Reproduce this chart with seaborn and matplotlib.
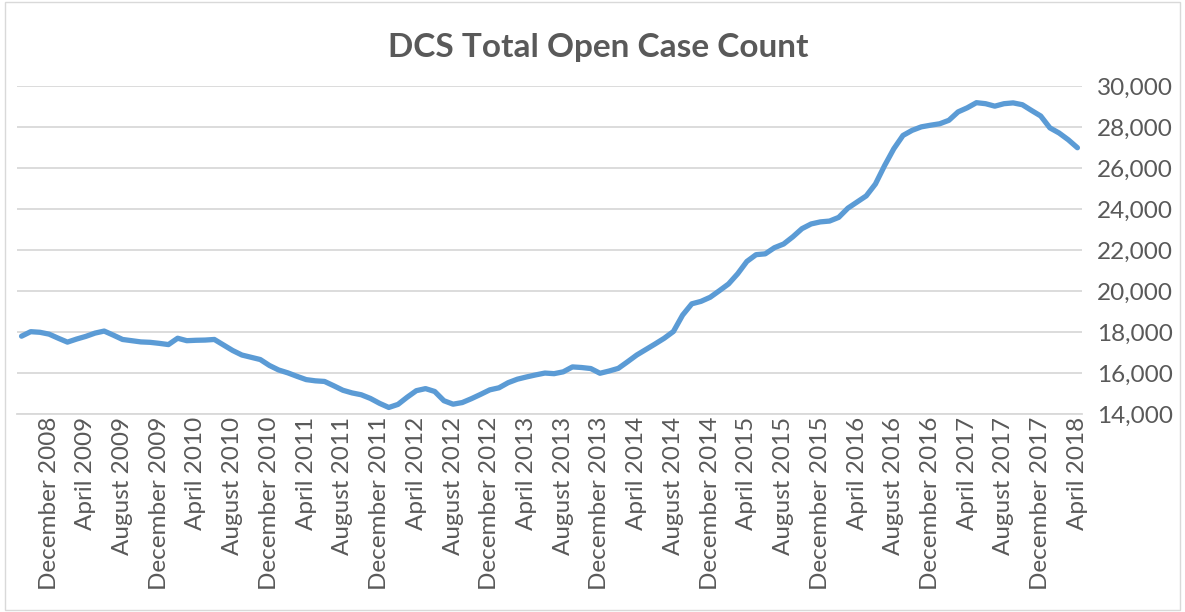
import pandas as pd
import matplotlib
matplotlib.use("Agg")
import matplotlib.pyplot as plt
import seaborn as sns
from matplotlib.ticker import FuncFormatter, MultipleLocator
from matplotlib.patches import Rectangle

sns.set_theme(style="white")
plt.rcParams['font.family'] = ['Lato', 'DejaVu Sans']

# Monthly open case counts, September 2008 - April 2018
months = pd.date_range("2008-09-01", "2018-04-01", freq="MS")
cases = [
    17800, 18020, 17990, 17900, 17700, 17510, 17660, 17790, 17950, 18050,
    17850, 17640, 17580, 17520, 17500, 17450, 17390, 17700, 17580, 17600,
    17610, 17640, 17370, 17100, 16880, 16770, 16660, 16370, 16150, 16010,
    15840, 15680, 15620, 15590, 15380, 15160, 15030, 14940, 14760, 14520,
    14320, 14470, 14820, 15140, 15240, 15100, 14650, 14480, 14560, 14750,
    14960, 15180, 15280, 15530, 15700, 15810, 15910, 16000, 15970, 16060,
    16300, 16270, 16220, 15990, 16100, 16230, 16550, 16880, 17150, 17420,
    17700, 18030, 18830, 19380, 19500, 19700, 20020, 20350, 20850, 21450,
    21780, 21820, 22120, 22300, 22650, 23050, 23280, 23380, 23420, 23600,
    24050, 24350, 24650, 25230, 26130, 26950, 27600, 27850, 28020, 28100,
    28170, 28340, 28750, 28950, 29200, 29150, 29030, 29150, 29190, 29100,
    28820, 28550, 27970, 27720, 27390, 27000,
]
month_labels = [m.strftime("%B %Y") for m in months]

df = pd.DataFrame({"idx": range(len(cases)), "cases": cases, "month": month_labels})

GRAY = "#595959"
fig = plt.figure(figsize=(11.85, 6.12), dpi=100)
ax = fig.add_axes([0.0143, 0.3235, 0.8988, 0.5355])

sns.lineplot(data=df, x="idx", y="cases", ax=ax, color="#5B9BD5", linewidth=3.8,
             solid_capstyle="round", solid_joinstyle="round")

ax.set_xlim(-0.5, len(cases) - 0.5)
ax.set_ylim(14000, 30000)
ax.yaxis.set_major_locator(MultipleLocator(2000))
ax.yaxis.set_major_formatter(FuncFormatter(lambda v, p: f"{int(v):,}"))
ax.yaxis.tick_right()
ax.grid(axis="y", color="#D9D9D9", linewidth=1.3)
ax.set_axisbelow(True)

tick_pos = list(range(3, len(cases), 4))
ax.set_xticks(tick_pos)
ax.set_xticklabels([month_labels[i] for i in tick_pos], rotation=90)

ax.tick_params(axis="x", length=0, pad=2, labelsize=17.5, colors=GRAY)
ax.tick_params(axis="y", length=0, pad=11, labelsize=17.5, colors=GRAY)
for s in ["top", "right", "left"]:
    ax.spines[s].set_visible(False)
ax.spines["bottom"].set_color("#D9D9D9")
ax.spines["bottom"].set_linewidth(1.3)
ax.set_xlabel("")
ax.set_ylabel("")

fig.text(0.505, 0.923, "DCS Total Open Case Count", ha="center", va="center",
         fontsize=24, fontweight="bold", color=GRAY)

fig.patches.append(Rectangle((0.004, 0.004), 0.992, 0.992, transform=fig.transFigure,
                             fill=False, edgecolor="#D9D9D9", linewidth=1))

fig.savefig("out.png", dpi=100)
